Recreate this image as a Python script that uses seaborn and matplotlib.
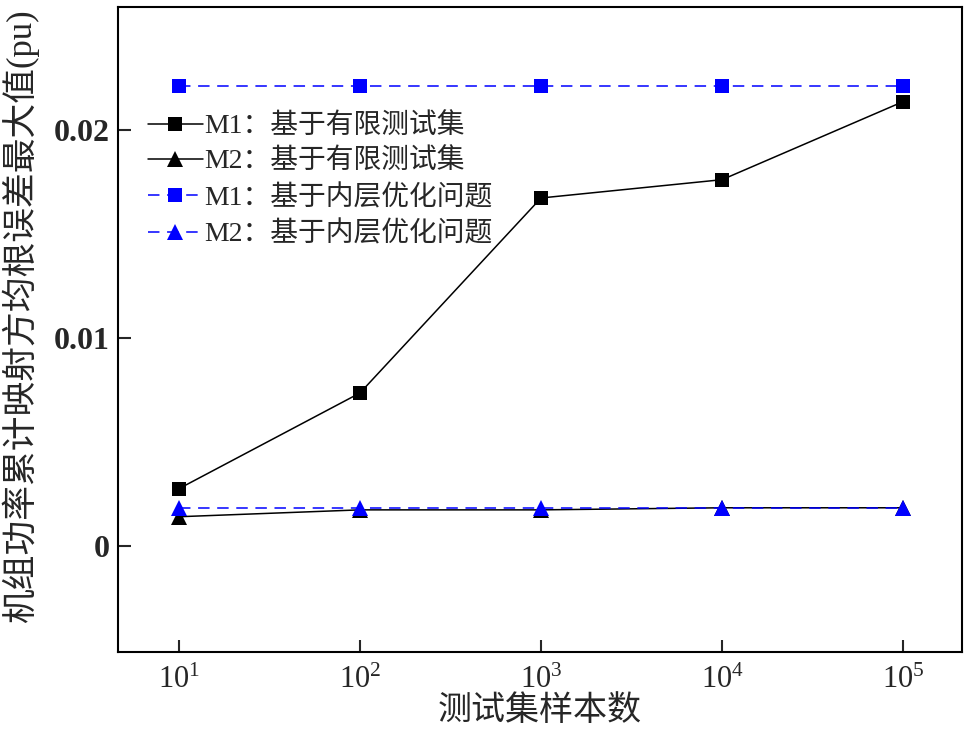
import numpy as np
import matplotlib
matplotlib.use("Agg")
import matplotlib.pyplot as plt
import seaborn as sns

# 测试集样本数
samples = [1e1, 1e2, 1e3, 1e4, 1e5]
# 各方法的误差最大值 (pu)
m1_finite = [0.00275, 0.00735, 0.01672, 0.01760, 0.02135]
m2_finite = [0.00140, 0.00173, 0.00173, 0.00183, 0.00183]
m1_inner = [0.02208, 0.02208, 0.02208, 0.02208, 0.02208]
m2_inner = [0.00183, 0.00183, 0.00183, 0.00183, 0.00183]

labels = ["M1：基于有限测试集", "M2：基于有限测试集",
          "M1：基于内层优化问题", "M2：基于内层优化问题"]

sns.set_theme(style="ticks")
plt.rcParams['font.family'] = ['Liberation Serif', 'Noto Sans CJK SC']
plt.rcParams['mathtext.fontset'] = 'custom'
plt.rcParams['mathtext.rm'] = 'Liberation Serif'
plt.rcParams['mathtext.it'] = 'Liberation Serif:italic'

fig = plt.figure(figsize=(9.64, 7.44), dpi=100)
ax = fig.add_axes([0.1224, 0.1237, 0.8756, 0.8669])

sns.lineplot(x=samples, y=m1_finite, ax=ax, color='black', lw=1.1,
             marker='s', markersize=10, markeredgewidth=0, label=labels[0])
sns.lineplot(x=samples, y=m2_finite, ax=ax, color='black', lw=1.1,
             marker='^', markersize=11, markeredgewidth=0, label=labels[1])
sns.lineplot(x=samples, y=m1_inner, ax=ax, color='#0000ff', lw=1.1,
             marker='s', markersize=10, markeredgewidth=0, label=labels[2],
             dashes=False, linestyle=(0, (7.5, 5)))
sns.lineplot(x=samples, y=m2_inner, ax=ax, color='#0000ff', lw=1.1,
             marker='^', markersize=11, markeredgewidth=0, label=labels[3],
             dashes=False, linestyle=(0, (7.5, 5)))

ax.set_xscale('log')
ax.set_xlim(10 ** 0.663, 10 ** 5.326)
ax.set_ylim(-0.0051, 0.0259)
ax.set_xticks(samples)
ax.minorticks_off()
ax.set_yticks([0, 0.01, 0.02])
ax.set_yticklabels(['0', '0.01', '0.02'], fontsize=23, fontweight='bold')
ax.tick_params(axis='x', labelsize=22, pad=10)
ax.tick_params(axis='y', pad=6)
ax.tick_params(direction='in', length=9, width=1.5, top=False, right=False)

for s in ax.spines.values():
    s.set_linewidth(1.5)
    s.set_color('black')

ax.set_xlabel("测试集样本数", fontsize=24.5, labelpad=0)
ax.set_ylabel("机组功率累计映射方均根误差最大值(pu)", fontsize=25)
ax.yaxis.set_label_coords(-0.094, 0.52)

ax.legend(loc='upper left', bbox_to_anchor=(0.035, 0.835), frameon=False,
          fontsize=20, handlelength=2.0, handletextpad=0.05,
          labelspacing=0.35, borderpad=0, borderaxespad=0)

fig.savefig("out.png", dpi=100)
